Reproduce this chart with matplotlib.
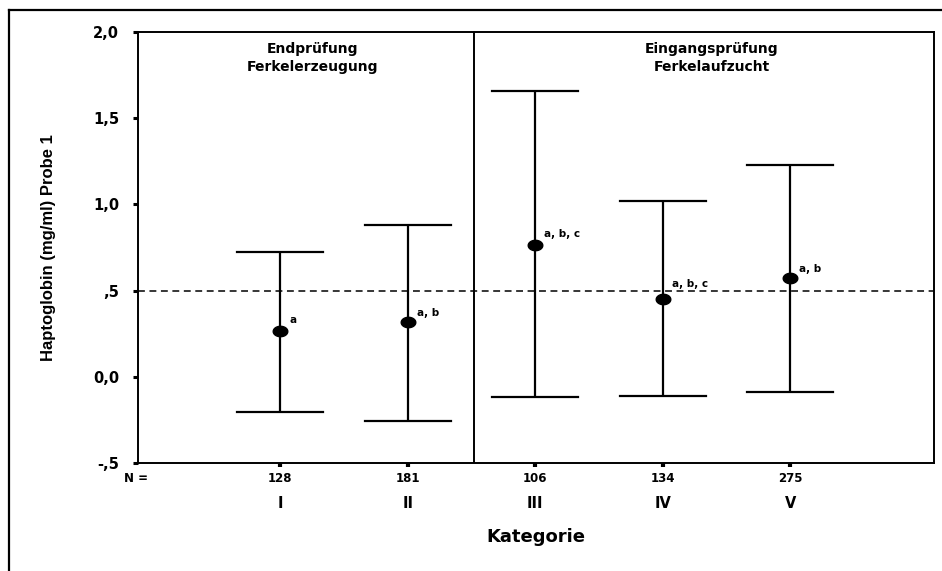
import numpy as np
import matplotlib
matplotlib.use("Agg")
import matplotlib.pyplot as plt
from matplotlib.path import Path
from matplotlib.lines import Line2D
import matplotlib.transforms as mtransforms

# SPSS-style letter-spaced text: DejaVu Sans Bold is the closest in width
plt.rcParams['font.family'] = ['DejaVu Sans']
plt.rcParams['font.weight'] = 'bold'

# data
categories = ['I', 'II', 'III', 'IV', 'V']
n_values = [128, 181, 106, 134, 275]
means = [0.267, 0.319, 0.767, 0.454, 0.572]
upper = [0.724, 0.879, 1.655, 1.018, 1.227]
lower = [-0.205, -0.257, -0.118, -0.112, -0.089]
letters = ['a', 'a, b', 'a, b, c', 'a, b, c', 'a, b']
y_ticks = [2.0, 1.5, 1.0, 0.5, 0.0, -0.5]
y_ticklabels = ['2,0', '1,5', '1,0', ',5', '0,0', '-,5']
reference_line = 0.5
group_split = 2.52
group_titles = ['Endprüfung\nFerkelerzeugung', 'Eingangsprüfung\nFerkelaufzucht']

# label offsets (points) of the significance letters
letter_dy = [4.3, 2.4, 4.3, 7.2, 2.9]

fig = plt.figure(figsize=(9.42, 5.71), dpi=100)
ax = fig.add_axes([138 / 942, 1 - 463 / 571, (934 - 138) / 942, (463 - 32) / 571])

x = np.arange(1, len(categories) + 1)
cap = 0.674

# error bars (whiskers + caps)
for xi, lo, hi in zip(x, lower, upper):
    ax.plot([xi, xi], [lo, hi], color='black', lw=1.6, solid_capstyle='butt')
    ax.plot([xi - cap / 2, xi + cap / 2], [hi, hi], color='black', lw=1.6)
    ax.plot([xi - cap / 2, xi + cap / 2], [lo, lo], color='black', lw=1.6)

# elliptical mean marker
t = np.linspace(0, 2 * np.pi, 60)
ellipse = Path(np.column_stack([1.4 * np.cos(t), np.sin(t)]), closed=True)
ax.plot(x, means, linestyle='none', marker=ellipse, markersize=10.5,
        color='black', zorder=5)

for xi, m, lab, dy in zip(x, means, letters, letter_dy):
    ax.annotate(lab, (xi, m), xytext=(6.5, dy), textcoords='offset points',
                fontsize=7.5, fontweight='bold', ha='left', va='bottom')

ax.axhline(reference_line, color='black', lw=1.1, linestyle=(0, (4.5, 3)))
ax.axvline(group_split, color='black', lw=1.4)

ax.set_xlim(-0.113, 6.125)
ax.set_ylim(-0.5, 2.0)

ax.set_yticks(y_ticks)
ax.set_yticklabels(y_ticklabels, fontsize=10.5, fontweight='bold')
ax.tick_params(axis='y', direction='out', length=3.5, width=2.2, pad=10)
ax.set_xticks(x)
ax.set_xticklabels([])
ax.tick_params(axis='x', direction='out', length=3, width=3)
for sp in ax.spines.values():
    sp.set_linewidth(1.4)

# N row and category labels under the axis
trans = mtransforms.blended_transform_factory(ax.transData, ax.transAxes)
ax.text(-0.22, -0.035, 'N =', transform=trans, ha='left', va='center',
        fontsize=8.5, fontweight='bold')
for xi, nv, cat in zip(x, n_values, categories):
    ax.text(xi, -0.035, str(nv), transform=trans, ha='center', va='center',
            fontsize=8.5, fontweight='bold')
    ax.text(xi, -0.093, cat, transform=trans, ha='center', va='center',
            fontsize=10.5, fontweight='bold')

ax.text(0.5, -0.172, 'Kategorie', transform=ax.transAxes, ha='center',
        va='center', fontsize=13, fontweight='bold')
ax.set_ylabel('Haptoglobin (mg/ml) Probe 1', fontsize=12, fontweight='bold',
              family=['Liberation Sans', 'DejaVu Sans'])
ax.yaxis.set_label_coords((56 - 138) / 796, 0.5)

# group titles
ax.text((ax.get_xlim()[0] + group_split) / 2 + 0.05, 0.94, group_titles[0],
        transform=trans, ha='center', va='center', fontsize=10,
        fontweight='bold', linespacing=1.35)
ax.text((group_split + ax.get_xlim()[1]) / 2 + 0.06, 0.94, group_titles[1],
        transform=trans, ha='center', va='center', fontsize=10,
        fontweight='bold', linespacing=1.35)

# outer frame (only left and top edges visible)
fig.add_artist(Line2D([9 / 942, 9 / 942], [0, 1 - 10 / 571],
                      transform=fig.transFigure, color='black', lw=1.6))
fig.add_artist(Line2D([9 / 942, 1], [1 - 10 / 571, 1 - 10 / 571],
                      transform=fig.transFigure, color='black', lw=1.6))

fig.savefig('out.png', dpi=100)
